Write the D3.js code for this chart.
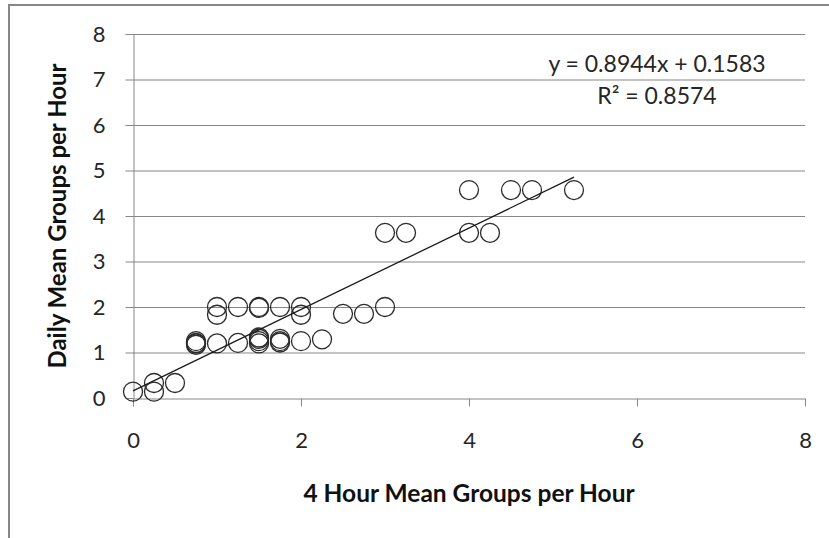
<!DOCTYPE html>
<html>
<head>
<meta charset="utf-8">
<script src="https://cdn.jsdelivr.net/npm/d3@7"></script>
<style>
    body { margin: 0; background: #fff; }
    svg { display: block; font-family: Lato, "Open Sans", sans-serif; }
</style>
</head>
<body>
<svg id="drawing_region"></svg>
<script>
// points (x = 4 hour mean, y = daily mean)
const xValues = [0, 0.25, 0.25, 0.5,
    0.75, 0.75, 0.75, 0.75,
    1, 1, 1, 1.25, 1.25,
    1.5, 1.5, 1.5, 1.5, 1.5, 1.5,
    1.75, 1.75, 1.75, 1.75,
    2, 2, 2, 2.25, 2.5, 2.75, 3,
    3, 3.25, 4, 4, 4.25, 4.5, 4.75, 5.25];
const yValues = [0.14, 0.33, 0.14, 0.33,
    1.2, 1.25, 1.21, 1.17,
    2, 1.83, 1.2, 2, 1.21,
    2, 1.98, 1.2, 1.25, 1.3, 1.33,
    2, 1.25, 1.3, 1.22,
    2, 1.83, 1.25, 1.29, 1.85, 1.85, 2,
    3.63, 3.63, 4.57, 3.63, 3.63, 4.57, 4.57, 4.57];

const xTicks = [0, 2, 4, 6, 8];
const yTicks = [0, 1, 2, 3, 4, 5, 6, 7, 8];

// linear trend shown in the chart
const slope = 0.8944;
const intercept = 0.1583;
const equationText = 'y = 0.8944x + 0.1583';
const r2Text = 'R\u00b2 = 0.8574';

const xTitle = '4 Hour Mean Groups per Hour';
const yTitle = 'Daily Mean Groups per Hour';

const data = xValues.map((x, i) => ({ x: x, y: yValues[i] }));

draw(data);

function draw(data) {

    const width  = 829;
    const height = 538;
    const margin = { top: 34, right: 24, bottom: 140, left: 133 };

    const svg = d3.select('#drawing_region')
        .attr('width', width)
        .attr('height', height);

    // outer chart frame (only left/top visible)
    svg.append('rect')
        .attr('x', 9)
        .attr('y', 5)
        .attr('width', 900)
        .attr('height', 700)
        .attr('fill', 'none')
        .attr('stroke', '#878787')
        .attr('stroke-width', 2);

    const chart = svg.append('g')
        .attr('transform', `translate(${margin.left}, ${margin.top})`);

    const inner_width  = width  - margin.left - margin.right;
    const inner_height = height - margin.top  - margin.bottom;

    const xscale = d3.scaleLinear()
        .domain([0, 8])
        .range([0, inner_width]);

    const yscale = d3.scaleLinear()
        .domain([0, 8])
        .range([inner_height, 0]);

    // horizontal gridlines
    chart.append('g')
        .selectAll('line')
        .data(yTicks.filter(d => d > 0))
        .enter()
        .append('line')
        .attr('x1', 0)
        .attr('x2', inner_width)
        .attr('y1', d => yscale(d) + 0.5)
        .attr('y2', d => yscale(d) + 0.5)
        .attr('stroke', '#878787')
        .attr('stroke-width', 1);

    const xaxis = chart.append('g')
        .attr('transform', `translate(0, ${inner_height + 0.5})`)
        .call(d3.axisBottom(xscale)
            .tickValues(xTicks)
            .tickSize(8)
            .tickPadding(26)
            .tickSizeOuter(0));

    const yaxis = chart.append('g')
        .attr('transform', 'translate(0.5, 0)')
        .call(d3.axisLeft(yscale)
            .tickValues(yTicks)
            .tickSize(8)
            .tickPadding(20)
            .tickSizeOuter(0));

    [xaxis, yaxis].forEach(ax => {
        ax.select('.domain').attr('stroke', '#878787');
        ax.selectAll('.tick line').attr('stroke', '#878787');
        ax.selectAll('.tick text')
            .attr('fill', '#262626')
            .attr('font-size', '22px')
            .attr('font-family', 'Lato, sans-serif');
    });

    chart.append('g')
        .selectAll('circle')
        .data(data)
        .enter()
        .append('circle')
        .attr('cx', d => xscale(d.x))
        .attr('cy', d => yscale(d.y))
        .attr('r', 9.5)
        .attr('fill', 'none')
        .attr('stroke', '#2b2b2b')
        .attr('stroke-width', 1.3);

    const xmin = d3.min(data, d => d.x);
    const xmax = d3.max(data, d => d.x);

    chart.append('line')
        .attr('x1', xscale(xmin))
        .attr('y1', yscale(slope * xmin + intercept))
        .attr('x2', xscale(xmax))
        .attr('y2', yscale(slope * xmax + intercept))
        .attr('stroke', '#1a1a1a')
        .attr('stroke-width', 1.3);

    svg.append('text')
        .attr('x', 657)
        .attr('y', 72)
        .attr('text-anchor', 'middle')
        .attr('font-size', '23px')
        .attr('fill', '#262626')
        .text(equationText);

    svg.append('text')
        .attr('x', 657)
        .attr('y', 104)
        .attr('text-anchor', 'middle')
        .attr('font-size', '23px')
        .attr('fill', '#262626')
        .text(r2Text);

    svg.append('text')
        .attr('x', margin.left + inner_width / 2)
        .attr('y', 502)
        .attr('text-anchor', 'middle')
        .attr('font-size', '24.5px')
        .attr('font-weight', 'bold')
        .attr('fill', '#111')
        .text(xTitle);

    svg.append('text')
        .attr('transform', `translate(66, ${margin.top + inner_height / 2}) rotate(-90)`)
        .attr('text-anchor', 'middle')
        .attr('font-size', '24px')
        .attr('font-weight', 'bold')
        .attr('fill', '#111')
        .text(yTitle);
}
</script>
</body>
</html>
